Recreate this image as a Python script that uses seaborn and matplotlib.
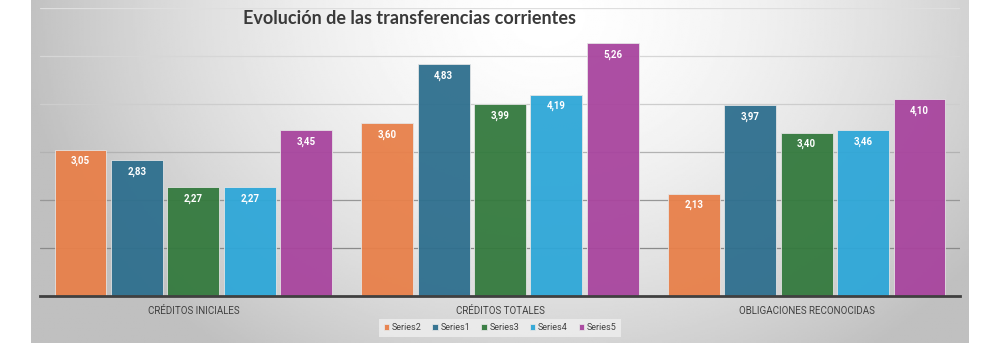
import numpy as np
import pandas as pd
import matplotlib.pyplot as plt
import seaborn as sns

# Data
# --------------
categorias = ["CRÉDITOS INICIALES", "CRÉDITOS TOTALES", "OBLIGACIONES RECONOCIDAS"]
series = ["Series2", "Series1", "Series3", "Series4", "Series5"]

series2 = [3.05, 3.60, 2.13]
series1 = [2.83, 4.83, 3.97]
series3 = [2.27, 3.99, 3.40]
series4 = [2.27, 4.19, 3.46]
series5 = [3.45, 5.26, 4.10]

colores = ["#E8804A", "#2E6F8E", "#347A3E", "#2EA7D8", "#A8459E"]

df = pd.DataFrame({
    "categoria": categorias * 5,
    "serie": np.repeat(series, 3),
    "valor": series2 + series1 + series3 + series4 + series5,
})

# Set-up
# --------------
sns.set_theme(style="white")
plt.rcParams["font.family"] = ["Roboto", "DejaVu Sans"]

fig = plt.figure(figsize=(10, 3.6), dpi=100, facecolor="white")

# radial grey background like the original chart area
bg = fig.add_axes([0.031, 0.047, 0.938, 0.953])
yy, xx = np.mgrid[0:1:200j, 0:1:500j]
d = np.sqrt(((xx - 0.55) / 0.55) ** 2 + ((yy - 0.05) / 1.2) ** 2)
shade = np.clip(1.0 - 0.24 * d ** 1.6, 0.75, 1.0)
bg.imshow(shade, cmap="gray", vmin=0, vmax=1, aspect="auto", extent=[0, 1, 1, 0])
bg.set_axis_off()

ax = fig.add_axes([0.04, 0.178, 0.92, 0.8])
ax.patch.set_alpha(0)

sns.barplot(data=df, x="categoria", y="valor", hue="serie", palette=colores,
            order=categorias, hue_order=series, width=0.92, gap=0.08,
            saturation=1, alpha=0.95, edgecolor="#e6e6e6", linewidth=0.6,
            ax=ax, zorder=2)

ax.set_ylim(0, 6)
ax.set_xlim(-0.5, 2.5)
ax.set_yticks(range(1, 7))
ax.set_yticklabels([])
ax.tick_params(axis="y", length=0)
ax.tick_params(axis="x", length=0, pad=7, labelsize=7, labelcolor="#404040")
ax.set_xlabel("")
ax.set_ylabel("")
ax.grid(axis="y", linewidth=0.9, zorder=1)
gris = ["#8a8a8a", "#979797", "#b2b2b2", "#cdcdcd", "#d6d6d6", "#dedede"]
for linea, c in zip(ax.get_ygridlines(), gris):
    linea.set_color(c)
ax.set_axisbelow(True)
for s in ["top", "right", "left"]:
    ax.spines[s].set_visible(False)
ax.spines["bottom"].set_color("#404040")
ax.spines["bottom"].set_linewidth(2)

for cont in ax.containers:
    etiquetas = [f"{b.get_height():.2f}".replace(".", ",") for b in cont]
    ax.bar_label(cont, labels=etiquetas, padding=-12, color="white",
                 fontsize=7, fontweight="bold")

ax.legend(loc="center", bbox_to_anchor=(0.5, 0.089), bbox_transform=fig.transFigure,
          ncol=5, fontsize=6.5, frameon=True, facecolor="#efefef", edgecolor="none",
          framealpha=0.8, handlelength=0.6, handleheight=0.6, handletextpad=0.3,
          columnspacing=1.2, borderpad=0.5, fancybox=False,
          labelcolor="#404040")

fig.text(0.243, 0.95, "Evolución de las transferencias corrientes", fontsize=13,
         fontweight="bold", color="#3a3a3a", family=["Lato", "DejaVu Sans"],
         ha="left", va="center")

# Rendering
# --------------
fig.savefig("out.png", dpi=100, facecolor="white")
